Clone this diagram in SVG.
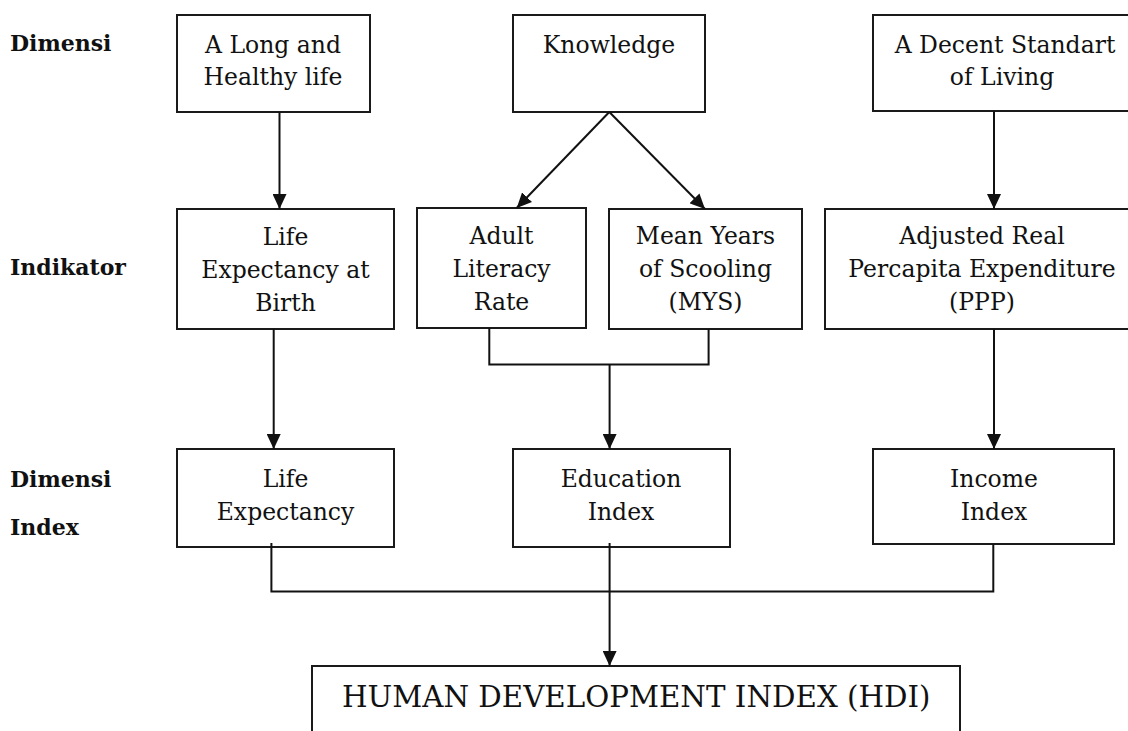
<svg xmlns="http://www.w3.org/2000/svg" width="1128" height="731" viewBox="0 0 1128 731">
  <style>
    .box { fill: #ffffff; stroke: #1a1a1a; stroke-width: 2; }
    .t { font-family: "DejaVu Serif", "Liberation Serif", serif; font-size: 23.5px; fill: #111; text-anchor: middle; }
    .big { font-family: "DejaVu Serif", "Liberation Serif", serif; font-size: 29.3px; fill: #111; }
    .lab { font-family: "DejaVu Serif", "Liberation Serif", serif; font-size: 22px; font-weight: bold; fill: #111; }
    .ln { fill: none; stroke: #111; stroke-width: 2; }
    .arr { fill: none; stroke: #111; stroke-width: 2; marker-end: url(#head); }
  </style>
  <defs>
    <marker id="head" viewBox="0 0 15 14" refX="15" refY="7" markerWidth="15" markerHeight="14" markerUnits="userSpaceOnUse" orient="auto">
      <path d="M0,0 L15,7 L0,14 z" fill="#111"/>
    </marker>
  </defs>
  <rect width="1128" height="731" fill="#ffffff"/>

  <!-- row labels -->
  <g id="labels">
    <text class="lab" x="10" y="51">Dimensi</text>
    <text class="lab" x="10" y="275">Indikator</text>
    <text class="lab" x="10" y="487">Dimensi</text>
    <text class="lab" x="10" y="535">Index</text>
  </g>

  <!-- dimensions -->
  <g id="dim-health">
    <rect class="box" x="177" y="15" width="193" height="97"/>
    <text class="t" x="273" y="53">A Long and</text>
    <text class="t" x="273" y="85">Healthy life</text>
  </g>
  <g id="dim-knowledge">
    <rect class="box" x="513" y="15" width="192" height="97"/>
    <text class="t" x="609" y="53">Knowledge</text>
  </g>
  <g id="dim-living">
    <rect class="box" x="873" y="15" width="267" height="96"/>
    <text class="t" x="1005" y="53">A Decent Standart</text>
    <text class="t" x="1002" y="85">of Living</text>
  </g>

  <!-- indicators -->
  <g id="ind-life">
    <rect class="box" x="177" y="209" width="217" height="120"/>
    <text class="t" x="285.5" y="245">Life</text>
    <text class="t" x="285.5" y="278">Expectancy at</text>
    <text class="t" x="285.5" y="311">Birth</text>
  </g>
  <g id="ind-literacy">
    <rect class="box" x="417" y="208" width="169" height="120"/>
    <text class="t" x="501.5" y="244">Adult</text>
    <text class="t" x="501.5" y="277">Literacy</text>
    <text class="t" x="501.5" y="310">Rate</text>
  </g>
  <g id="ind-mys">
    <rect class="box" x="609" y="209" width="193" height="120"/>
    <text class="t" x="705.5" y="244">Mean Years</text>
    <text class="t" x="705.5" y="277">of Scooling</text>
    <text class="t" x="705.5" y="310">(MYS)</text>
  </g>
  <g id="ind-ppp">
    <rect class="box" x="825" y="209" width="315" height="120"/>
    <text class="t" x="982" y="244">Adjusted Real</text>
    <text class="t" x="982" y="277">Percapita Expenditure</text>
    <text class="t" x="982" y="310">(PPP)</text>
  </g>

  <!-- indices -->
  <g id="idx-life">
    <rect class="box" x="177" y="449" width="217" height="98"/>
    <text class="t" x="285.5" y="487">Life</text>
    <text class="t" x="285.5" y="520">Expectancy</text>
  </g>
  <g id="idx-education">
    <rect class="box" x="513" y="449" width="217" height="98"/>
    <text class="t" x="621" y="487">Education</text>
    <text class="t" x="621" y="520">Index</text>
  </g>
  <g id="idx-income">
    <rect class="box" x="873" y="449" width="241" height="95"/>
    <text class="t" x="994" y="487">Income</text>
    <text class="t" x="994" y="520">Index</text>
  </g>

  <!-- composite index -->
  <g id="hdi">
    <rect class="box" x="312" y="666" width="648" height="80"/>
    <text class="big" x="342" y="707">HUMAN DEVELOPMENT INDEX (HDI)</text>
  </g>

  <!-- connectors -->
  <g id="connectors">
    <line class="arr" x1="279.5" y1="112" x2="279.5" y2="209"/>
    <line class="arr" x1="609.3" y1="112" x2="516.7" y2="208"/>
    <line class="arr" x1="609.3" y1="112" x2="705" y2="209"/>
    <line class="arr" x1="994" y1="111" x2="994" y2="209"/>

    <line class="arr" x1="273.7" y1="329" x2="273.7" y2="449"/>
    <polyline class="ln" points="489.3,328 489.3,364.5 708.6,364.5 708.6,329"/>
    <line class="arr" x1="609.6" y1="364.5" x2="609.6" y2="449"/>
    <line class="arr" x1="994" y1="329" x2="994" y2="449"/>

    <polyline class="ln" points="271.4,543 271.4,591.5 993.3,591.5 993.3,544"/>
    <line class="arr" x1="609.6" y1="543" x2="609.6" y2="666"/>
  </g>
</svg>
